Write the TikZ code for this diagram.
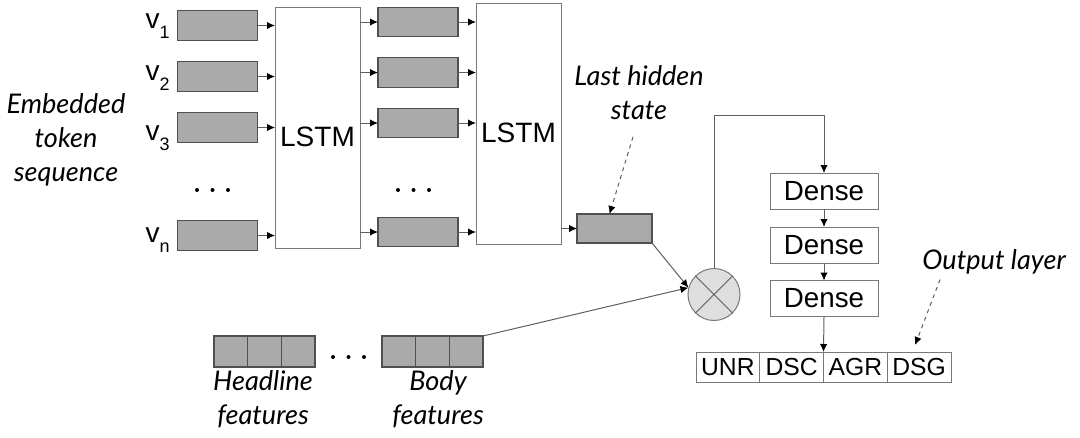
\documentclass[tikz,border=0pt]{standalone}
\usepackage{fontspec}
\setmainfont{Liberation Sans}
\newfontfamily\notefont{Lato}
\usetikzlibrary{arrows.meta, calc}

\definecolor{cellgray}{RGB}{170,170,170}
\definecolor{edgegray}{RGB}{80,80,80}
\definecolor{linegray}{RGB}{95,95,95}
\definecolor{boxgray}{RGB}{120,120,120}
\definecolor{mulgray}{RGB}{222,222,222}

\newcommand{\vlab}[1]{{\fontsize{21}{21}\selectfont v}\raisebox{-7.5pt}{\fontsize{13.5}{13.5}\selectfont #1}}

\begin{document}
\begin{tikzpicture}[x=0.75pt, y=-0.75pt,
    >={Latex[length=6pt, width=5.5pt, color=black]},
    conn/.style={draw=linegray, line width=0.75pt},
    cell/.style={draw=edgegray, fill=cellgray, line width=0.8pt, inner sep=0pt, outer sep=0pt,
                 minimum width=60pt, minimum height=22pt},
    fcell/.style={cell, minimum width=25.25pt, minimum height=23.25pt},
    lstm/.style={draw=boxgray, line width=0.75pt, inner sep=0pt, outer sep=0pt,
                 minimum width=63.75pt, minimum height=180.75pt, text height=29pt,
                 font=\fontsize{21}{21}\selectfont},
    dense/.style={draw=boxgray, line width=0.75pt, inner sep=0pt, outer sep=0pt,
                  minimum width=81pt, minimum height=27pt, font=\fontsize{20.8}{20.8}\selectfont},
    outcell/.style={draw=boxgray, line width=0.75pt, inner sep=0pt, outer sep=0pt,
                    minimum width=47.8pt, minimum height=22.5pt, font=\fontsize{18.5}{18.5}\selectfont},
    note/.style={align=center, font=\notefont\itshape\fontsize{20.3}{25.5}\selectfont}]
                        \useasboundingbox (0,0) rectangle (1080,437);

                        % Embedded tokens and first LSTM:
                        \foreach \i/\y/\b in {1/25.5/28, 2/76.5/80, 3/127.5/140, n/235.5/242} {
                            \node[cell] (e\i) at (217.5,\y) {};
                            \node[anchor=base east, inner sep=0pt] (v\i) at (170,\b) {\vlab{\i}};
                        }
                        \node[lstm] (lstm1) at (317.5,127.5) {LSTM};
                        \foreach \i in {1,2,3,n}
                            \draw[conn, ->] (e\i.east) -- (e\i.east -| lstm1.west);

                        % Second LSTM:
                        \foreach \i/\y in {1/22, 2/72.5, 3/123, n/232} {
                            \node[cell] (h\i) at (418,\y) {};
                            \draw[conn, ->] (h\i.west -| lstm1.east) -- (h\i.west);
                        }
                        \node[lstm] (lstm2) at (518.5,123.5) {LSTM};
                        \foreach \i in {1,2,3,n}
                            \draw[conn, ->] (h\i.east) -- (h\i.east -| lstm2.west);

                        \foreach \x in {197,212.5,228} \fill[black] (\x,190) circle (2);
                        \foreach \x in {398,413.5,429} \fill[black] (\x,190) circle (2);

                        % Last hidden state:
                        \node[cell, minimum width=56.25pt, minimum height=21.75pt] (last) at (614.5,228.5) {};
                        \draw[conn, ->] (last.west -| lstm2.east) -- (last.west);
                        \node[note] (lasttxt) at (639,93) {Last hidden\\state};
                        \draw[conn, dashed, ->] ($(lasttxt.south)+(-6,12)$) -- ($(last.north)+(-5,0)$);

                        % Features:
                        \foreach \k in {1,2,3} {
                            \node[fcell] (a\k) at ({214+33.67*(\k-0.5)},351.5) {};
                            \node[fcell] (b\k) at ({382+33.67*(\k-0.5)},351.5) {};
                        }
                        \foreach \x in {333,348.5,364} \fill[black] (\x,357) circle (2);
                        \node[note] (headtxt) at (263,399) {Headline\\features};
                        \node[note] (bodytxt) at (438,399) {Body\\features};
                        \node[note] (embtxt) at (66,139.5) {Embedded\\token\\sequence};

                        % Merge and dense layers:
                        \node[circle, draw=boxgray, fill=mulgray, line width=0.75pt, minimum size=39pt, inner sep=0pt] (mul) at (714,294.5) {};
                        \draw[conn] (mul.north east) -- (mul.south west) (mul.north west) -- (mul.south east);
                        \draw[conn, ->] (last.south east) -- (mul.165);
                        \draw[conn, ->] (b3.north east) -- (mul.165);

                        \node[dense] (d1) at (824,191) {Dense};
                        \node[dense] (d2) at (824,245) {Dense};
                        \node[dense] (d3) at (824,298.5) {Dense};
                        \draw[conn, ->] (mul.north) -- ++(0,-152.5) -| (d1.north);
                        \draw[conn, ->] (d1.south) -- (d2.north);
                        \draw[conn, ->] (d2.south) -- (d3.north);

                        % Output layer:
                        \foreach \lab [count=\k] in {UNR,DSC,AGR,DSG}
                            \node[outcell] (o\k) at ({696+63.75*(\k-0.5)},367) {\lab};
                        \draw[conn, ->] (d3.south) -- (o2.north east);
                        \node[note] (outtxt) at (994,261.5) {Output layer};
                        \draw[conn, dashed, ->] ($(outtxt.south)+(-54,1)$) -- ($(o4.north)+(-4,-7)$);
                    \end{tikzpicture}
\end{document}
